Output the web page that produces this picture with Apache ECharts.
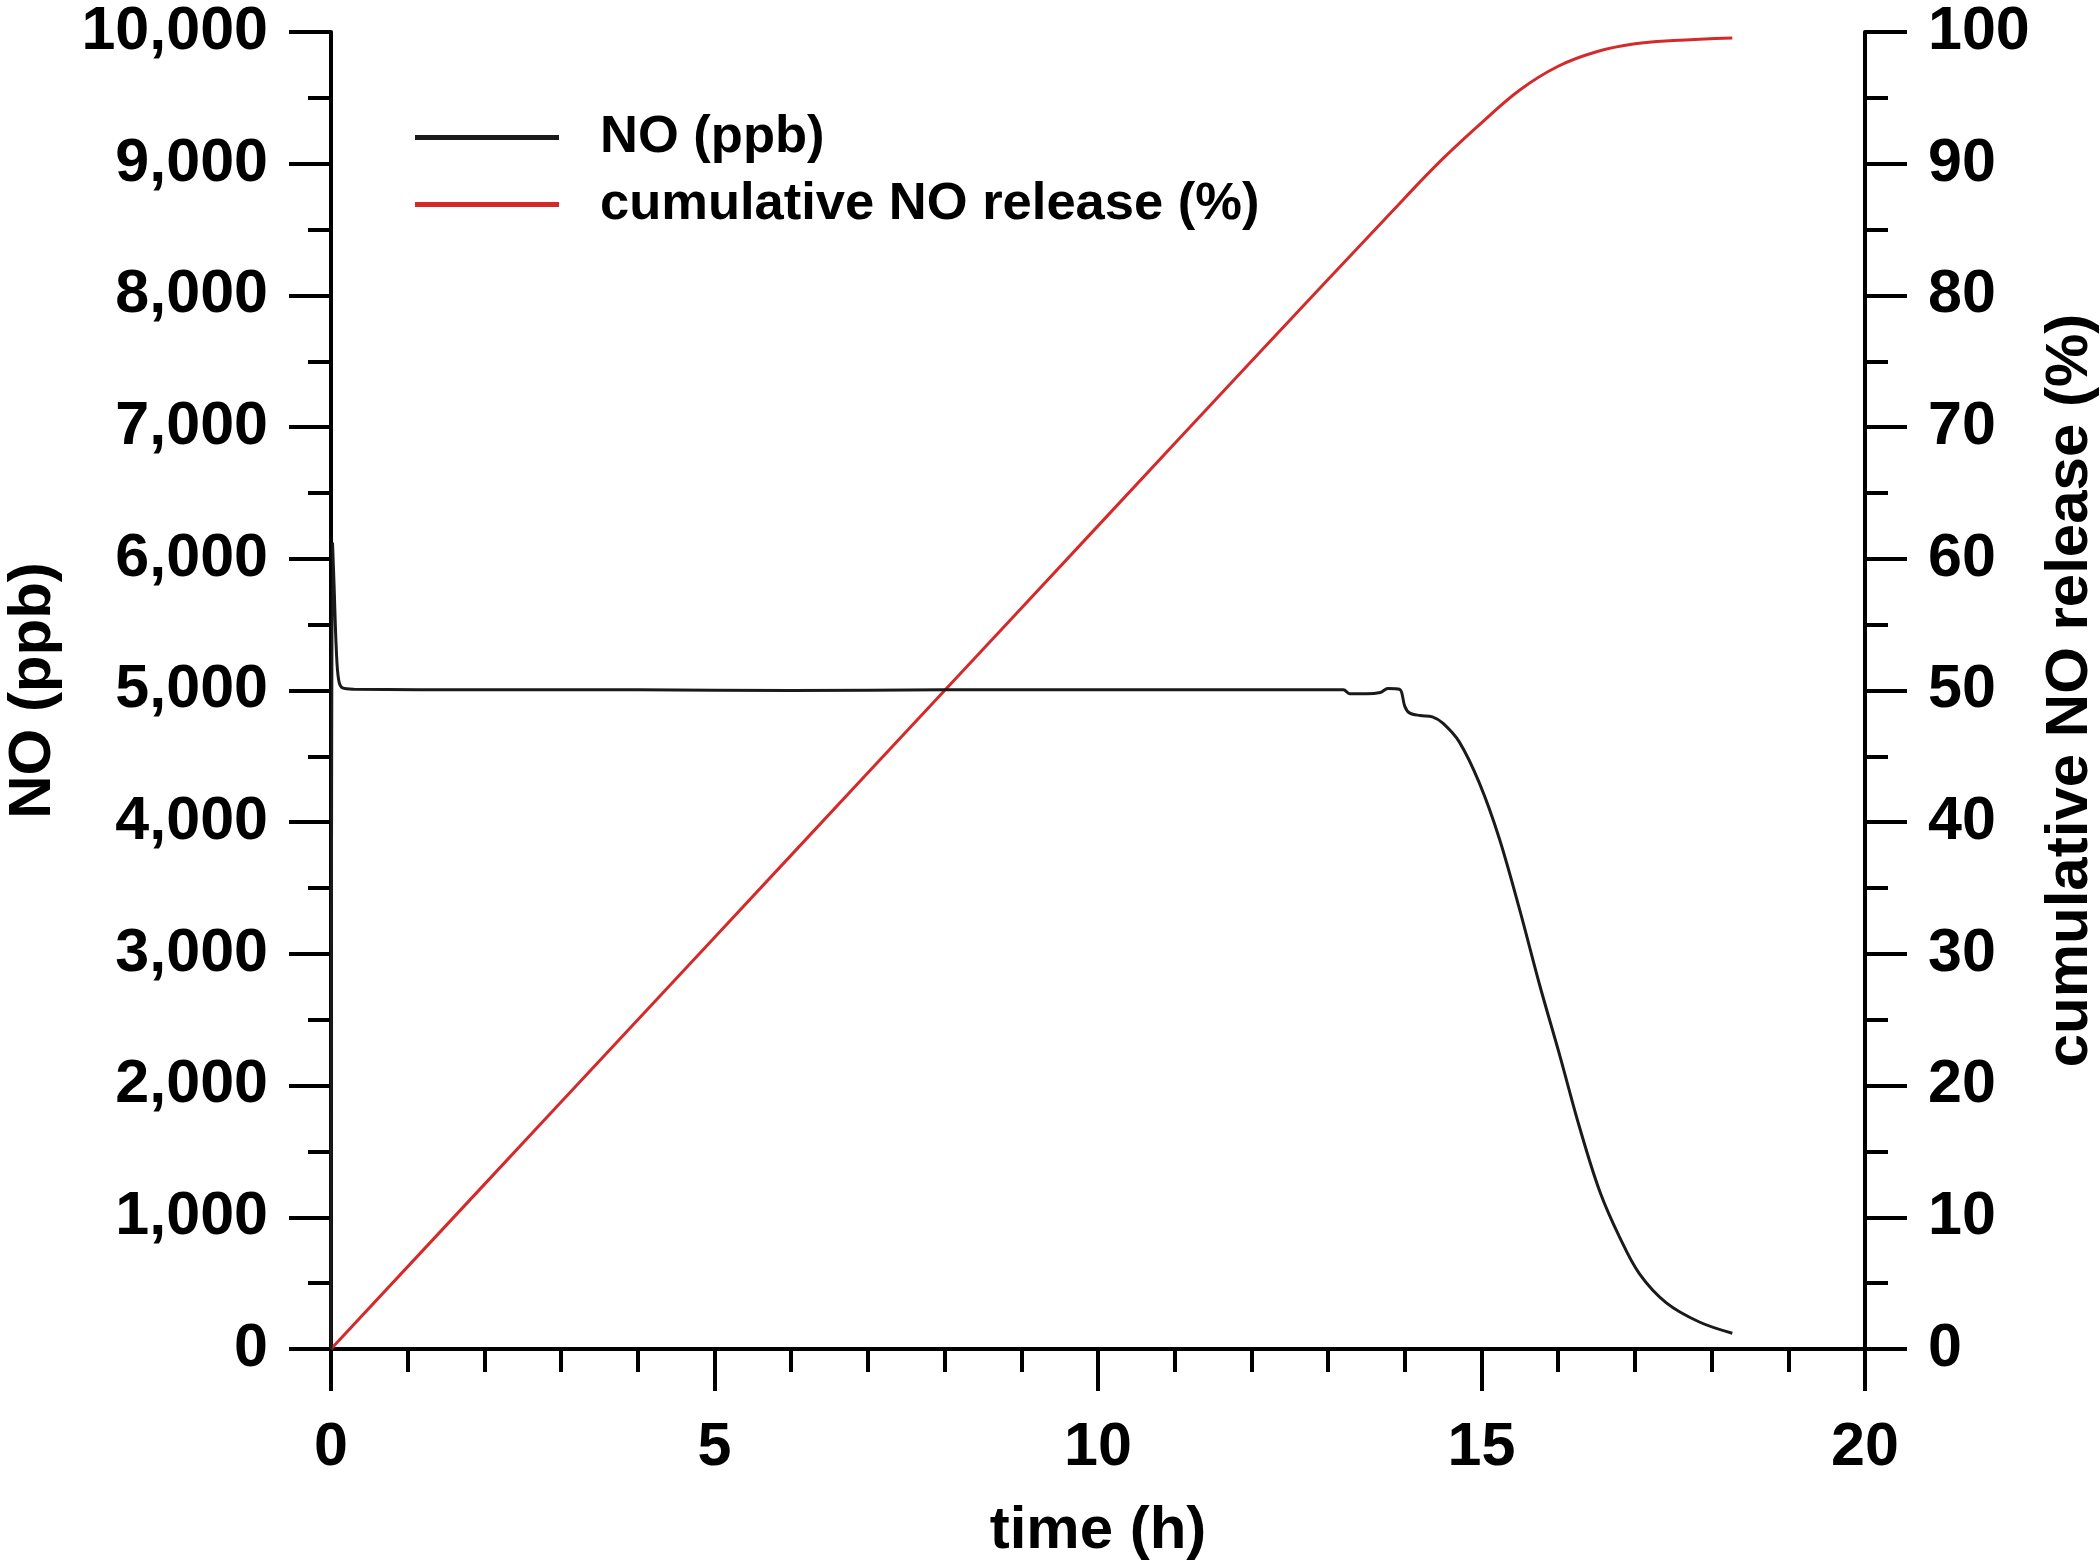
<!DOCTYPE html>
<html>
<head>
<meta charset="utf-8">
<script src="https://cdn.jsdelivr.net/npm/echarts@6/dist/echarts.min.js"></script>
<style>
  html, body { margin: 0; padding: 0; background: #ffffff; }
  #chart { width: 2100px; height: 1565px; }
</style>
</head>
<body>
<div id="chart"></div>
<script>
// NO concentration (ppb) vs time (h)
const timeNO = [0, 0.02, 0.04, 0.07, 0.1, 0.15, 0.3, 2, 4, 6, 8, 10, 12, 13.2, 13.28, 13.5, 13.68, 13.78, 13.93, 14.0, 14.06, 14.2, 14.36, 14.5, 14.71, 14.97, 15.23, 15.5, 15.76, 16.02, 16.28, 16.54, 16.8, 17.06, 17.41, 17.84, 18.27];
const valuesNO = [0, 6120, 5800, 5300, 5080, 5020, 5010, 5005, 5005, 5000, 5005, 5005, 5005, 5005, 4975, 4975, 4985, 5015, 5010, 4880, 4830, 4810, 4800, 4750, 4610, 4300, 3880, 3330, 2760, 2230, 1680, 1200, 850, 570, 350, 205, 120];

// cumulative NO release (%) vs time (h)
const timeCum = [0, 2, 4, 6, 8, 10, 12, 14, 14.5, 15, 15.5, 16, 16.5, 17, 17.5, 18.27];
const valuesCum = [0, 12.5, 25, 37.5, 50, 62.5, 75, 87.4, 90.4, 93.1, 95.6, 97.4, 98.5, 99.1, 99.35, 99.55];

const seriesNames = ['NO (ppb)', 'cumulative NO release (%)'];
const xTitle = 'time (h)';
const yLeftTitle = 'NO (ppb)';
const yRightTitle = 'cumulative NO release (%)';

const FONT = '"Liberation Sans", Arial, Helvetica, sans-serif';
const tickLbl = { fontFamily: FONT, fontWeight: 'bold', fontSize: 61, color: '#000' };
const titleLbl = { fontFamily: FONT, fontWeight: 'bold', fontSize: 60, color: '#000' };
const axLine = { show: true, lineStyle: { color: '#000', width: 4 } };
const tick = { show: true, inside: false, length: 42, lineStyle: { color: '#000', width: 4 } };
const minorTick = (n) => ({ show: true, splitNumber: n, length: 23, lineStyle: { color: '#000', width: 4 } });

const chart = echarts.init(document.getElementById('chart'), null, { renderer: 'canvas' });
chart.setOption({
  backgroundColor: '#ffffff',
  animation: false,
  grid: { left: 331, right: 235, top: 32, bottom: 216, containLabel: false, outerBoundsMode: 'none' },
  legend: {
    orient: 'vertical',
    left: 410,
    top: 106,
    icon: 'rect',
    itemWidth: 144,
    itemHeight: 5,
    itemGap: 14,
    data: seriesNames,
    textStyle: { fontFamily: FONT, fontWeight: 'bold', fontSize: 52.5, color: '#000', lineHeight: 53, padding: [0, 0, 0, 36] }
  },
  xAxis: {
    type: 'value',
    min: 0, max: 20, interval: 5,
    name: xTitle,
    nameLocation: 'middle',
    nameGap: 152,
    nameTextStyle: titleLbl,
    axisLine: axLine,
    axisTick: tick,
    minorTick: minorTick(5),
    splitLine: { show: false },
    minorSplitLine: { show: false },
    axisLabel: Object.assign({ margin: 69 }, tickLbl)
  },
  yAxis: [
    {
      type: 'value',
      position: 'left',
      min: 0, max: 10000, interval: 1000,
      name: yLeftTitle,
      nameLocation: 'middle',
      nameRotate: 90,
      nameGap: 268,
      nameTextStyle: titleLbl,
      axisLine: axLine,
      axisTick: tick,
      minorTick: minorTick(2),
      splitLine: { show: false },
      axisLabel: Object.assign({ margin: 63, formatter: (v) => v.toLocaleString('en-US') }, tickLbl)
    },
    {
      type: 'value',
      position: 'right',
      min: 0, max: 100, interval: 10,
      name: yRightTitle,
      nameLocation: 'middle',
      nameRotate: 90,
      nameGap: 175,
      nameTextStyle: titleLbl,
      axisLine: axLine,
      axisTick: tick,
      minorTick: minorTick(2),
      splitLine: { show: false },
      axisLabel: Object.assign({ margin: 63 }, tickLbl)
    }
  ],
  series: [
    {
      name: seriesNames[0],
      type: 'line',
      yAxisIndex: 0,
      showSymbol: false,
      symbol: 'none',
      smooth: 0.35,
      lineStyle: { color: '#1a1a1a', width: 3 },
      itemStyle: { color: '#1a1a1a' },
      data: timeNO.map((t, i) => [t, valuesNO[i]]),
      z: 3
    },
    {
      name: seriesNames[1],
      type: 'line',
      yAxisIndex: 1,
      showSymbol: false,
      symbol: 'none',
      smooth: 0.4,
      lineStyle: { color: '#d42a2a', width: 3 },
      itemStyle: { color: '#d42a2a' },
      data: timeCum.map((t, i) => [t, valuesCum[i]]),
      z: 2
    }
  ]
});
</script>
</body>
</html>
